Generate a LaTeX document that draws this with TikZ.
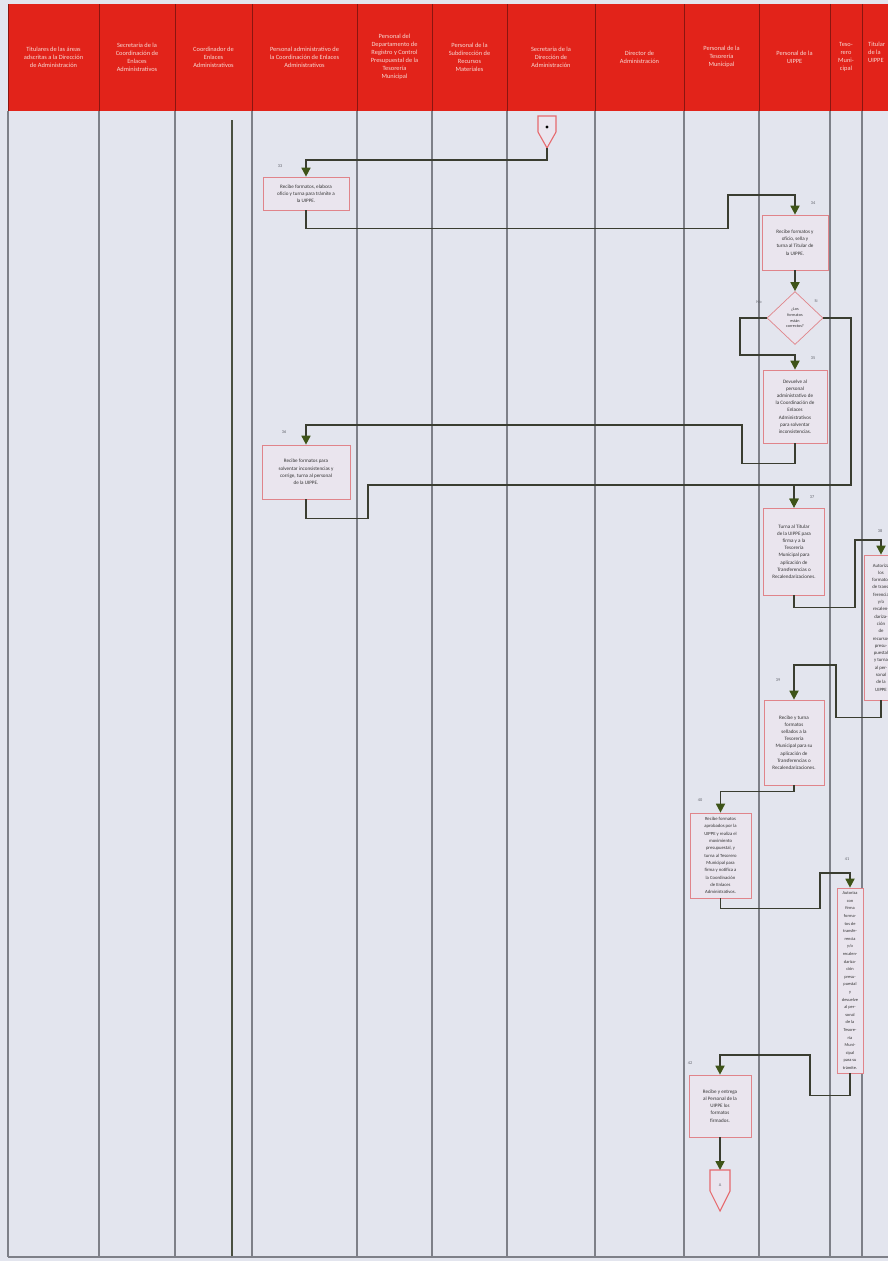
\documentclass[tikz,border=0pt]{standalone}
\usepackage{fontspec}
\setmainfont{Carlito}
\usetikzlibrary{arrows.meta,shapes.geometric}
\definecolor{bg}{HTML}{E3E5EE}
\definecolor{hdr}{HTML}{E2231A}
\definecolor{hdrline}{HTML}{8A1510}
\definecolor{hdrtxt}{HTML}{F7D8D2}
\definecolor{lanel}{HTML}{7E8088}
\definecolor{boxfill}{HTML}{EAE5EE}
\definecolor{boxdraw}{HTML}{E0848A}
\definecolor{conn}{HTML}{3A3D30}
\definecolor{tipc}{HTML}{3E5418}
\definecolor{numc}{HTML}{60626A}
\definecolor{coordline}{HTML}{4A5040}
\begin{document}
\begin{tikzpicture}[x=1pt,y=-1pt,
  hdrtext/.style={text=hdrtxt,align=center,font=\fontsize{6.4}{8}\selectfont,inner sep=0pt},
  laneline/.style={draw=lanel,line width=1.1pt},
  procbox/.style={draw=boxdraw,fill=boxfill,line width=0.7pt,align=center,
     font=\fontsize{5.1}{7.2}\selectfont,inner sep=1pt,text=black!80},
  decbox/.style={diamond,draw=boxdraw,fill=boxfill,line width=0.7pt,align=center,
     font=\fontsize{4.2}{5.6}\selectfont,inner sep=0pt,text=black!80},
  numlab/.style={font=\fontsize{4.3}{5}\selectfont,text=numc,inner sep=0pt},
  flow/.style={draw=conn,line width=1.7pt,-{Triangle[width=9pt,length=9pt,color=tipc]}},
  conshape/.style={draw=boxdraw!80!red,fill=boxfill,line width=1.1pt,line join=miter}
]
\useasboundingbox (0,0) rectangle (888,1261);
\fill[bg] (0,0) rectangle (888,1261);
% header band
\fill[hdr] (8,4) rectangle (888,111);
\foreach \x in {8,99,175,252,357,432,507,595,684,759,830,862}{
  \draw[hdrline,line width=0.9pt] (\x,4) -- (\x,111);
  \draw[laneline] (\x,111) -- (\x,1257);
}
\draw[laneline] (8,1257) -- (888,1257);
\draw[draw=coordline,line width=1.2pt] (232,120) -- (232,1256);
% header texts
\node[hdrtext] (h1) at (53.5,57) {Titulares de las áreas\\adscritas a la Dirección\\de Administración};
\node[hdrtext] (h2) at (137,57) {Secretaria de la\\Coordinación de\\Enlaces\\Administrativos};
\node[hdrtext] (h3) at (213.5,57) {Coordinador de\\Enlaces\\Administrativos};
\node[hdrtext] (h4) at (304.5,57) {Personal administrativo de\\la Coordinación de Enlaces\\Administrativos};
\node[hdrtext] (h5) at (394.5,57) {Personal del\\Departamento de\\Registro y Control\\Presupuestal de la\\Tesorería\\Municipal};
\node[hdrtext] (h6) at (469.5,57) {Personal de la\\Subdirección de\\Recursos\\Materiales};
\node[hdrtext] (h7) at (551,57) {Secretaria de la\\Dirección de\\Administración};
\node[hdrtext] (h8) at (639.5,57) {Director de\\Administración};
\node[hdrtext] (h9) at (721.5,57) {Personal de la\\Tesorería\\Municipal};
\node[hdrtext] (h10) at (794.5,57) {Personal de la\\UIPPE};
\node[hdrtext] (h11) at (846,57) {Teso-\\rero\\Muni-\\cipal};
\node[hdrtext,anchor=west,align=left] (h12) at (868,52) {Titular\\de la\\UIPPE};
% start connector
\draw[conshape] (538,116) -- (556,116) -- (556,132) -- (547,148) -- (538,132) -- cycle;
\fill[black] (547,127) circle (1.6);
\coordinate (start) at (547,148);
% process boxes
\node[procbox,minimum width=86pt,minimum height=33pt] (b33) at (306,193.5)
  {Recibe formatos, elabora\\oficio y turna para trámite a\\la UIPPE.};
\node[numlab] (n33) at (280,166) {33};
\node[procbox,minimum width=66pt,minimum height=55pt] (b34) at (795,242.5)
  {Recibe formatos y\\oficio, sella y\\turna al Titular de\\la UIPPE.};
\node[numlab] (n34) at (813,203) {34};
\node[decbox,minimum width=56pt,minimum height=53pt] (d) at (795,318)
  {¿Los\\formatos\\están\\correctos?};
\node[numlab] (nno) at (759,302) {No};
\node[numlab] (nsi) at (816,301) {Si};
\node[procbox,minimum width=64pt,minimum height=73pt] (b35) at (795,406.5)
  {Devuelve al\\personal\\administrativo de\\la Coordinación de\\Enlaces\\Administrativos\\para solventar\\inconsistencias.};
\node[numlab] (n35) at (813,358) {35};
\node[procbox,minimum width=88pt,minimum height=54pt] (b36) at (306,472)
  {Recibe formatos para\\solventar inconsistencias y\\corrige, turna al personal\\de la UIPPE.};
\node[numlab] (n36) at (284,432) {36};
\node[procbox,minimum width=61pt,minimum height=87pt] (b37) at (794,551.5)
  {Turna al Titular\\de la UIPPE para\\firma y a la\\Tesorería\\Municipal para\\aplicación de\\Transferencias o\\Recalendarizaciones.};
\node[numlab] (n37) at (812,497) {37};
\node[procbox,minimum width=34pt,minimum height=145pt,font=\fontsize{4.8}{7.3}\selectfont] (b38) at (881,627.5)
  {Autoriza\\los\\formatos\\de trans-\\ferencia\\y/o\\recalen-\\dariza-\\ción\\de\\recursos\\presu-\\puestal\\y turna\\al per-\\sonal\\de la\\UIPPE};
\node[numlab] (n38) at (880,531) {38};
\node[procbox,minimum width=60pt,minimum height=85pt] (b39) at (794,742.5)
  {Recibe y turna\\formatos\\sellados a la\\Tesorería\\Municipal para su\\aplicación de\\Transferencias o\\Recalendarizaciones.};
\node[numlab] (n39) at (778,680) {39};
\node[procbox,minimum width=61pt,minimum height=85pt,font=\fontsize{4.7}{7.3}\selectfont] (b40) at (720.5,855.5)
  {Recibe formatos\\aprobados por la\\UIPPE y realiza el\\movimiento\\presupuestal, y\\turna al Tesorero\\Municipal para\\firma y notifica a\\la Coordinación\\de Enlaces\\Administrativos.};
\node[numlab] (n40) at (700,800) {40};
\node[procbox,minimum width=26pt,minimum height=185pt,font=\fontsize{4.4}{7.6}\selectfont] (b41) at (850,980.5)
  {Autoriza\\con\\firma\\forma-\\tos de\\transfe-\\rencia\\y/o\\recalen-\\dariza-\\ción\\presu-\\puestal\\y\\devuelve\\al per-\\sonal\\de la\\Tesore-\\ría\\Muni-\\cipal\\para su\\trámite.};
\node[numlab] (n41) at (847,859) {41};
\node[procbox,minimum width=62pt,minimum height=62pt] (b42) at (720,1106)
  {Recibe y entrega\\al Personal de la\\UIPPE los\\formatos\\firmados.};
\node[numlab] (n42) at (690,1063) {42};
% end connector
\draw[conshape] (710,1170) -- (730,1170) -- (730,1191) -- (720,1211) -- (710,1191) -- cycle;
\node[numlab] (endlab) at (720,1185) {A};
\coordinate (endc) at (720,1170);
% connectors
\draw[flow] (start) -- ++(0,12) -| (b33.north);
\draw[flow] (b33.south) -- ++(0,18) -| (728,195) -| (b34.north);
\draw[flow] (b34.south) -- (d.north);
\draw[flow] (d.west) -| (740,355) -| (b35.north);
\draw[flow] (d.east) -| (851,485) -| (b37.north);
\draw[flow] (b35.south) -- ++(0,20) -| (742,425) -| (b36.north);
\draw[flow] (b36.south) -- ++(0,19) -| (368,485) -| (b37.north);
\draw[flow] (b37.south) -- ++(0,12) -| (855,540) -| (b38.north);
\draw[flow] (b38.south) -- ++(0,17) -| (836,665) -| (b39.north);
\draw[flow] (b39.south) -- ++(0,6) -| (b40.north);
\draw[flow] (b40.south) -- ++(0,10) -| (820,873) -| (b41.north);
\draw[flow] (b41.south) -- ++(0,22) -| (810,1055) -| (b42.north);
\draw[flow] (b42.south) -- (endc);
\end{tikzpicture}
\end{document}
